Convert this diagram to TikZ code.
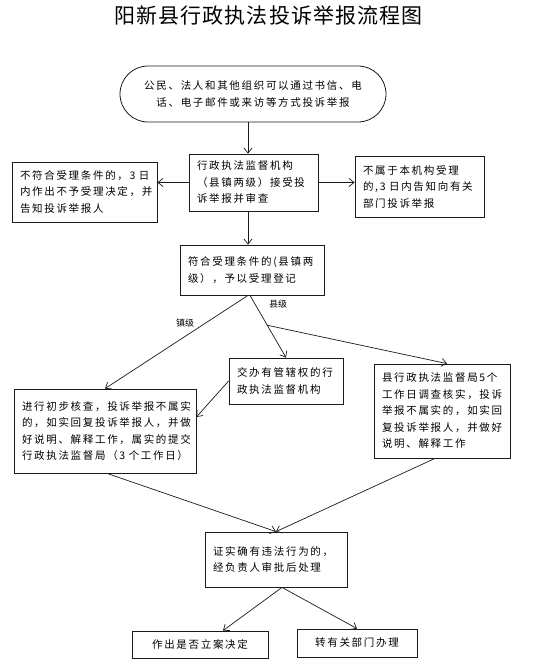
\documentclass[tikz,border=0pt]{standalone}
\usepackage{fontspec}
\usepackage{xcolor}
\usepackage{tikz}
\usetikzlibrary{positioning,arrows.meta}
\newfontfamily\bodyfont[LetterSpace=16]{Noto Sans CJK SC}
\newfontfamily\titlefont[LetterSpace=5]{Noto Sans CJK SC}
\newfontfamily\labelfont{Noto Sans CJK SC}
\definecolor{lineink}{HTML}{1A1A1A}

\begin{document}
\begin{tikzpicture}[x=1pt, y=-1pt,
  flowbox/.style={
    rectangle, draw=lineink, line width=0.8pt,
    inner xsep=8pt, inner ysep=2pt, align=left,
    font=\bodyfont\fontsize{10.5}{16.5}\selectfont,
  },
  startbox/.style={flowbox, rounded corners=28pt, align=center},
  endbox/.style={flowbox, align=center},
  flowarrow/.style={-{Straight Barb[length=5pt,width=8pt]}, line width=0.7pt, lineink},
  branchlabel/.style={font=\labelfont\fontsize{9}{11}\selectfont},
]

\fill[white] (0,0) rectangle (549,660);
\useasboundingbox (0,0) rectangle (549,660);

% Title
\node[font=\titlefont\fontsize{21}{24}\selectfont] (title) at (268.5,15) {阳新县行政执法投诉举报流程图};

% Step 1 - complaint
\node[startbox, minimum width=266pt, minimum height=56pt] (start) at (253,94) {
  公民、法人和其他组织可以通过书信、电\\话、电子邮件或来访等方式投诉举报
};

% Step 2 - review and the two rejections
\node[flowbox, minimum width=129pt, minimum height=57pt, text width=113pt] (review) at (253.5,182.5) {
  行政执法监督机构\\（县镇两级）接受投\\诉举报并审查
};
\node[flowbox, minimum width=145pt, minimum height=60pt, text width=129pt] (reject) at (84.5,192) {
  不符合受理条件的，3~日\\内作出不予受理决定，并\\告知投诉举报人
};
\node[flowbox, minimum width=129pt, minimum height=61pt, text width=113pt] (transferout) at (419.5,186.5) {
  不属于本机构受理\\的,3~日内告知向有关\\部门投诉举报
};

% Step 3 - registration
\node[flowbox, minimum width=144pt, minimum height=50pt, text width=128pt] (accept) at (252,270) {
  符合受理条件的(县镇两\\级），予以受理登记
};

% Step 4 - town and county handling
\node[flowbox, minimum width=182pt, minimum height=84pt, text width=166pt] (town) at (105,431) {
  进行初步核查，投诉举报不属实\\的，如实回复投诉举报人，并做\\好说明、解释工作，属实的提交\\行政执法监督局（3~个工作日）
};
\node[flowbox, minimum width=114pt, minimum height=46pt, text width=98pt] (assign) at (286,381) {
  交办有管辖权的行\\政执法监督机构
};
\node[flowbox, minimum width=136pt, minimum height=94pt, text width=120pt] (county) at (442,411) {
  县行政执法监督局5个\\工作日调查核实，投诉\\举报不属实的，如实回\\复投诉举报人，并做好\\说明、解释工作
};

% Step 5 - verification and outcome
\node[flowbox, minimum width=142pt, minimum height=55pt, text width=126pt] (verify) at (276,559.5) {
  证实确有违法行为的，\\经负责人审批后处理
};
\node[endbox, minimum width=136pt, minimum height=27pt] (case) at (200,644.5) {作出是否立案决定};
\node[endbox, minimum width=120pt, minimum height=28pt] (handover) at (357,643) {转有关部门办理};

% Branch labels
\node[branchlabel] (lbcounty) at (278,304) {县级};
\node[branchlabel] (lbtown) at (185,323) {镇级};

% Connectors
\draw[flowarrow] ([xshift=-5pt]start.south) -- ([xshift=-5.5pt]review.north);
\draw[flowarrow] (review.west) -- (review.west -| reject.east);
\draw[flowarrow] (review.east) -- (review.east -| transferout.west);
\draw[flowarrow] ([xshift=-5.5pt]review.south) -- ([xshift=-4pt]accept.north);
\draw[flowarrow] ([xshift=-4pt]accept.south) -- (town.north);
\draw[flowarrow] ([xshift=-2pt]accept.south) -- coordinate[pos=0.48] (split) (assign.north);
\draw[flowarrow] (split) -- ([xshift=5pt]county.north);
\draw[flowarrow] (assign.west) -- ([yshift=14pt]town.east);
\draw[flowarrow] ([xshift=2pt]town.south) -- (verify.north);
\draw[flowarrow] ([xshift=-7pt]county.south) -- (verify.north);
\draw[flowarrow] ([xshift=6pt]verify.south) -- ([xshift=23pt]case.north);
\draw[flowarrow] ([xshift=6pt]verify.south) -- (handover.north);

\end{tikzpicture}
\end{document}
